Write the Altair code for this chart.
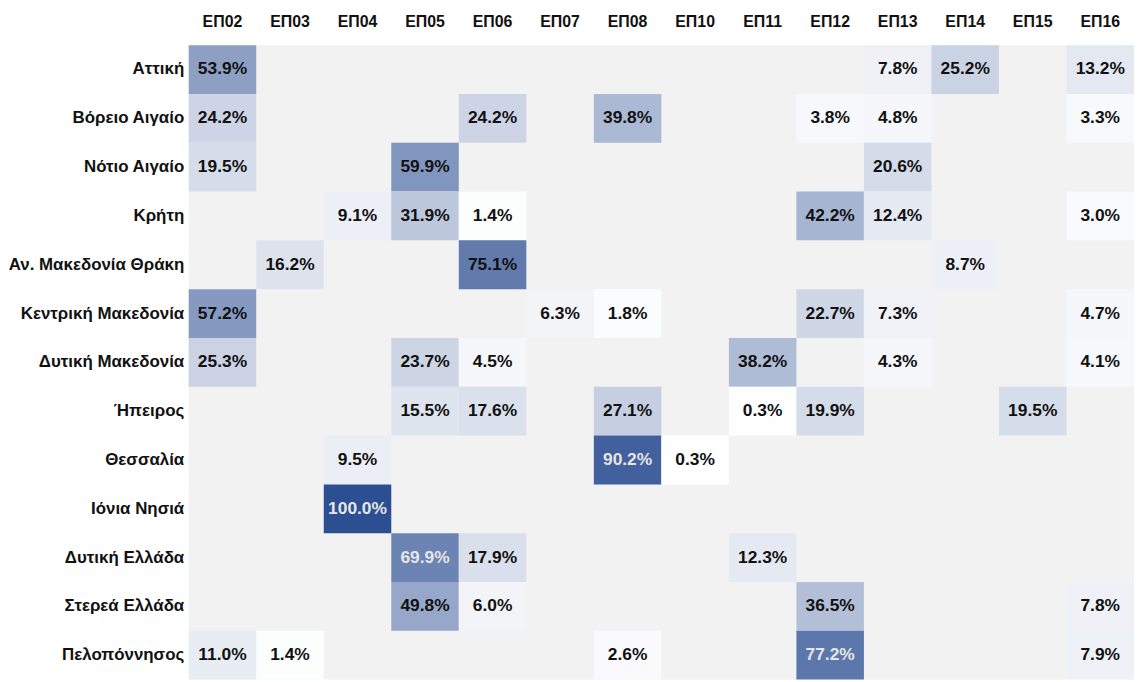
import altair as alt
import pandas as pd

programmes = ["ΕΠ02", "ΕΠ03", "ΕΠ04", "ΕΠ05", "ΕΠ06", "ΕΠ07", "ΕΠ08",
              "ΕΠ10", "ΕΠ11", "ΕΠ12", "ΕΠ13", "ΕΠ14", "ΕΠ15", "ΕΠ16"]
regions = ["Αττική", "Βόρειο Αιγαίο", "Νότιο Αιγαίο", "Κρήτη",
           "Αν. Μακεδονία Θράκη", "Κεντρική Μακεδονία", "Δυτική Μακεδονία",
           "Ήπειρος", "Θεσσαλία", "Ιόνια Νησιά", "Δυτική Ελλάδα",
           "Στερεά Ελλάδα", "Πελοπόννησος"]

attiki = {"ΕΠ02": 53.9, "ΕΠ13": 7.8, "ΕΠ14": 25.2, "ΕΠ16": 13.2}
voreio_aigaio = {"ΕΠ02": 24.2, "ΕΠ06": 24.2, "ΕΠ08": 39.8, "ΕΠ12": 3.8, "ΕΠ13": 4.8, "ΕΠ16": 3.3}
notio_aigaio = {"ΕΠ02": 19.5, "ΕΠ05": 59.9, "ΕΠ13": 20.6}
kriti = {"ΕΠ04": 9.1, "ΕΠ05": 31.9, "ΕΠ06": 1.4, "ΕΠ12": 42.2, "ΕΠ13": 12.4, "ΕΠ16": 3.0}
amth = {"ΕΠ03": 16.2, "ΕΠ06": 75.1, "ΕΠ14": 8.7}
kentriki_mak = {"ΕΠ02": 57.2, "ΕΠ07": 6.3, "ΕΠ08": 1.8, "ΕΠ12": 22.7, "ΕΠ13": 7.3, "ΕΠ16": 4.7}
dytiki_mak = {"ΕΠ02": 25.3, "ΕΠ05": 23.7, "ΕΠ06": 4.5, "ΕΠ11": 38.2, "ΕΠ13": 4.3, "ΕΠ16": 4.1}
ipeiros = {"ΕΠ05": 15.5, "ΕΠ06": 17.6, "ΕΠ08": 27.1, "ΕΠ11": 0.3, "ΕΠ12": 19.9, "ΕΠ15": 19.5}
thessalia = {"ΕΠ04": 9.5, "ΕΠ08": 90.2, "ΕΠ10": 0.3}
ionia = {"ΕΠ04": 100.0}
dytiki_ell = {"ΕΠ05": 69.9, "ΕΠ06": 17.9, "ΕΠ11": 12.3}
sterea = {"ΕΠ05": 49.8, "ΕΠ06": 6.0, "ΕΠ12": 36.5, "ΕΠ16": 7.8}
peloponnisos = {"ΕΠ02": 11.0, "ΕΠ03": 1.4, "ΕΠ08": 2.6, "ΕΠ12": 77.2, "ΕΠ16": 7.9}

row_values = [attiki, voreio_aigaio, notio_aigaio, kriti, amth, kentriki_mak,
              dytiki_mak, ipeiros, thessalia, ionia, dytiki_ell, sterea, peloponnisos]

# cells whose label is drawn in light text in the reference
light_cells = [("Θεσσαλία", "ΕΠ08"), ("Ιόνια Νησιά", "ΕΠ04"),
               ("Δυτική Ελλάδα", "ΕΠ05"), ("Πελοπόννησος", "ΕΠ12")]

records = []
for reg, vals in zip(regions, row_values):
    for prog, v in vals.items():
        records.append({"region": reg, "programme": prog, "value": v,
                        "label": f"{v:.1f}%",
                        "light": (reg, prog) in light_cells})
df = pd.DataFrame(records)

FONT = "Liberation Sans"

base = alt.Chart(df).encode(
    x=alt.X("programme:N", sort=programmes, scale=alt.Scale(domain=programmes, paddingInner=0, paddingOuter=0),
            axis=alt.Axis(orient="top", title=None, domain=False, ticks=False, grid=False, labelAngle=0,
                          labelFont=FONT, labelFontWeight="bold", labelFontSize=16,
                          labelColor="#111111", labelPadding=16)),
    y=alt.Y("region:N", sort=regions, scale=alt.Scale(domain=regions, paddingInner=0, paddingOuter=0),
            axis=alt.Axis(title=None, domain=False, ticks=False, grid=False, labelFont=FONT,
                          labelFontWeight="bold", labelFontSize=17, labelColor="#111111",
                          labelPadding=5, labelLimit=300)),
)

rects = base.mark_rect().encode(
    color=alt.Color("value:Q", scale=alt.Scale(domain=[0, 100], range=["#ffffff", "#2c4f92"],
                                               interpolate="rgb"), legend=None)
)

texts = base.mark_text(font=FONT, fontWeight="bold", fontSize=17.5, baseline="middle").encode(
    text="label:N",
    color=alt.condition("datum.light", alt.value("#e6e6e6"), alt.value("#111111")),
)

chart = (rects + texts).properties(
    width=952, height=639,
    autosize=alt.AutoSizeParams(type="none"),
    padding={"left": 182, "top": 35, "right": 0, "bottom": 0},
    background="#ffffff",
).configure_view(fill="#f2f2f2", strokeWidth=0)

chart.save("out.html", embed_options={"renderer": "svg", "actions": False})
